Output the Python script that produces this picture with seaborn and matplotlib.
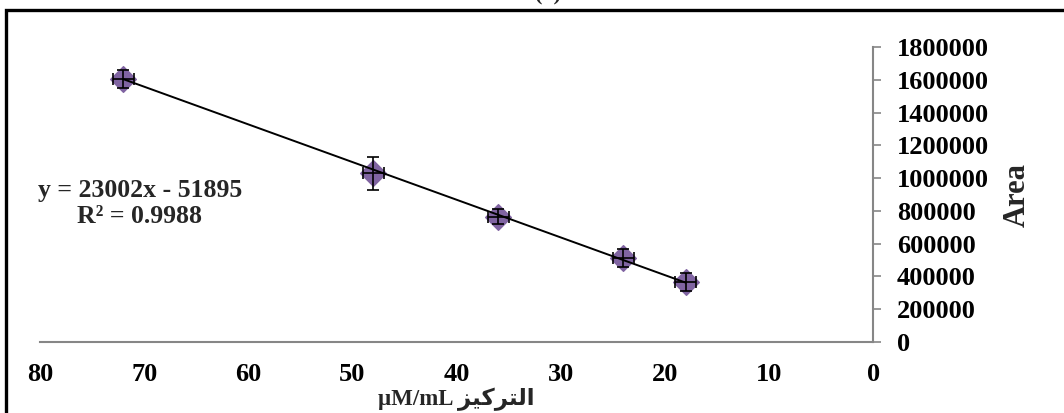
import numpy as np
import pandas as pd
import matplotlib
matplotlib.use('Agg')
import matplotlib.pyplot as plt
from matplotlib.patches import Rectangle
import seaborn as sns

# concentration (uM/mL) and peak area
conc = [72, 48, 36, 24, 18]
area = [1605000, 1030000, 765000, 510000, 365000]
area_err = [55000, 100000, 45000, 55000, 55000]
conc_err = [1, 1, 1, 1, 1]

# trendline from the chart label
slope = 23002
intercept = -51895
r2 = 0.9988

xticks = [80, 70, 60, 50, 40, 30, 20, 10, 0]
yticks = [0, 200000, 400000, 600000, 800000, 1000000, 1200000, 1400000,
          1600000, 1800000]

df = pd.DataFrame({'conc': conc, 'area': area})
trend = pd.DataFrame({'conc': [max(conc), min(conc)]})
trend['area'] = slope * trend['conc'] + intercept

sns.set_style('white')
plt.rcParams['font.family'] = ['Liberation Serif', 'DejaVu Sans']
plt.rcParams['font.weight'] = 'bold'

fig = plt.figure(figsize=(10.64, 4.13), dpi=100)
ax = fig.add_axes([0.0376, 0.172, 0.783, 0.714])

sns.scatterplot(data=df, x='conc', y='area', marker='D', s=170,
                color='#8064A2', edgecolor='#8064A2', ax=ax, zorder=2)
sns.lineplot(data=trend, x='conc', y='area', color='black', lw=1.4,
             ax=ax, zorder=3)
ax.errorbar(conc, area, yerr=area_err, xerr=conc_err, fmt='none',
            ecolor='black', elinewidth=1.2, capsize=4, capthick=1.2,
            zorder=4)

ax.set_xlim(80, 0)
ax.set_ylim(0, 1800000)
ax.set_xticks(xticks)
ax.set_yticks(yticks)
ax.set_xticklabels([str(t) for t in xticks], fontsize=19, fontweight='bold')
ax.set_yticklabels([str(t) for t in yticks], fontsize=19, fontweight='bold')

ax.yaxis.tick_right()
ax.yaxis.set_label_position('right')
for s in ['left', 'top']:
    ax.spines[s].set_visible(False)
for s in ['bottom', 'right']:
    ax.spines[s].set_color('#868686')
    ax.spines[s].set_linewidth(1.5)
ax.tick_params(axis='both', direction='out', length=6, width=1.2,
               color='#868686', labelcolor='black')
ax.tick_params(axis='x', pad=9)
ax.tick_params(axis='y', pad=11)

# Arabic word in shaped, visual order
arabic = '\uFEB0\uFEF4\uFEDB\uFEAE\uFE98\uFEDF\uFE8D'
ax.set_xlabel('\u00b5M/mL ' + arabic, fontsize=16.5, fontweight='bold',
              labelpad=1)
ax.set_ylabel('Area', fontsize=22, fontweight='bold', labelpad=10)

ax.text(0.12, 0.47, 'y = %dx - %d\nR\u00b2 = %.4f' % (slope, -intercept, r2),
        transform=ax.transAxes, ha='center', va='center', fontsize=18.5,
        fontweight='bold', linespacing=1.2)

# panel letter, mostly cut off by the top edge as in the source
fig.text(548 / 1064, 1.0, '(a)', ha='center', va='baseline',
         fontsize=16, fontweight='bold')

fig.patches.append(Rectangle((6 / 1064, -0.1), 1.2, 1.1 - 10 / 413,
                             transform=fig.transFigure, fill=False,
                             edgecolor='black', lw=2.4))

fig.savefig('out.png', dpi=100)
